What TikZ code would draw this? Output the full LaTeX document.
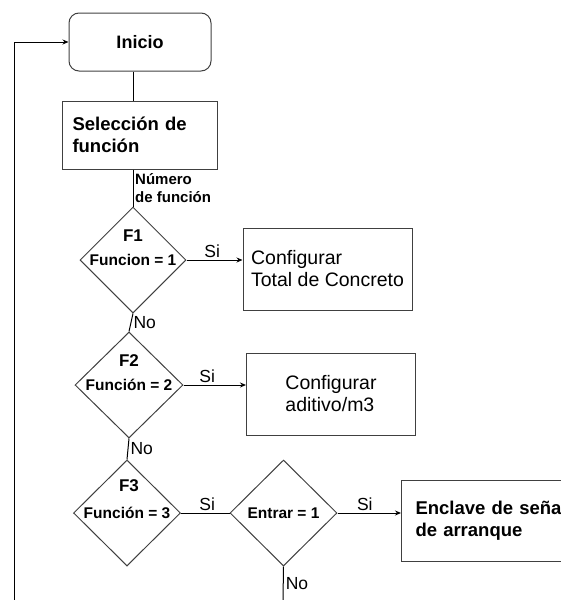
\documentclass[tikz,border=0pt]{standalone}
\usepackage{fontspec}
\setmainfont{Liberation Sans}
\usetikzlibrary{shapes.geometric,arrows.meta}

\begin{document}
\begin{tikzpicture}[x=1pt,y=-1pt,
    every node/.style={inner sep=0pt},
    startbox/.style={draw=black!75, line width=1pt, rounded corners=10pt,
      minimum width=142pt, minimum height=58pt,
      font=\fontsize{18}{22}\selectfont\bfseries},
    selbox/.style={draw=black!75, line width=1pt, text width=134pt,
      inner xsep=10.5pt, minimum height=68pt, align=left,
      font=\fontsize{18.5}{22}\selectfont\bfseries},
    procbox/.style={draw=black!75, line width=1pt, inner xsep=7pt,
      minimum width=169pt, minimum height=82pt, align=left,
      font=\fontsize{19.5}{22}\selectfont},
    endbox/.style={draw=black!75, line width=1pt, text width=170pt,
      inner xsep=14pt, minimum height=81pt, align=left,
      font=\fontsize{18.5}{22}\selectfont\bfseries},
    decision/.style={diamond, draw=black!75, line width=1pt, aspect=1,
      font=\fontsize{15.5}{18}\selectfont\bfseries},
    fname/.style={font=\fontsize{17}{20}\selectfont\bfseries},
    yesno/.style={inner sep=2pt, font=\fontsize{17.5}{20}\selectfont},
    flow/.style={line width=1pt},
    arrow/.style={flow, -{Stealth[length=6pt,width=5pt]}}
  ]
  \useasboundingbox (0,0) rectangle (560,600);

  \node[startbox] (inicio) at (140,42) {Inicio};
  \node[selbox] (sel) at (139.5,135) {Selección de función};
  \node[anchor=north west, align=left,
    font=\fontsize{15}{18}\selectfont\bfseries] (numero) at (135,173) {Número\\de función};

  \node[decision, minimum width=106pt, minimum height=106pt] (f1) at (133,260) {Funcion = 1};
  \node[fname] (f1t) at ([yshift=24pt]f1.center) {F1};
  \node[procbox] (cfg1) at (327.5,269) {Configurar\\Total de Concreto};

  \node[decision, minimum width=108pt, minimum height=106pt] (f2) at (129,385) {Función = 2};
  \node[fname] (f2t) at ([yshift=24pt]f2.center) {F2};
  \node[procbox] (cfg2) at (331,394) {Configurar\\aditivo/m3};

  \node[decision, minimum width=107pt, minimum height=106pt] (f3) at (127,513) {Función = 3};
  \node[fname] (f3t) at ([xshift=2pt,yshift=27pt]f3.center) {F3};
  \node[decision, minimum width=107pt, minimum height=106pt] (entrar) at (283.5,513) {Entrar = 1};
  \node[endbox, anchor=west] (enclave) at (401,520.5) {Enclave de señal\\de arranque};

  \coordinate (salida) at (283,600);
  \coordinate (retorno) at (14,600);

  \draw[flow] (inicio.south -| f1.north) -- (sel.north -| f1.north);
  \draw[flow] (sel.south -| f1.north) -- (f1.north);
  \draw[arrow] (f1.east) -- node[yesno, above, pos=0.46] (si1) {Si} (f1.east -| cfg1.west);
  \draw[flow] (f1.south) -- node[yesno, right] (no1) {No} (f2.north);
  \draw[arrow] (f2.east) -- node[yesno, above, pos=0.38] (si2) {Si} (f2.east -| cfg2.west);
  \draw[flow] (f2.south) -- node[yesno, right] (no2) {No} (f3.north);
  \draw[flow] (f3.east) -- node[yesno, above, pos=0.54] (si3) {Si} (entrar.west);
  \draw[arrow] (entrar.east) -- node[yesno, above, pos=0.43] (si4) {Si} (entrar.east -| enclave.west);
  \draw[flow] (entrar.south) -- node[yesno, right] (no4) {No} (salida);
  \draw[arrow] (retorno) |- (inicio.west);
\end{tikzpicture}
\end{document}
